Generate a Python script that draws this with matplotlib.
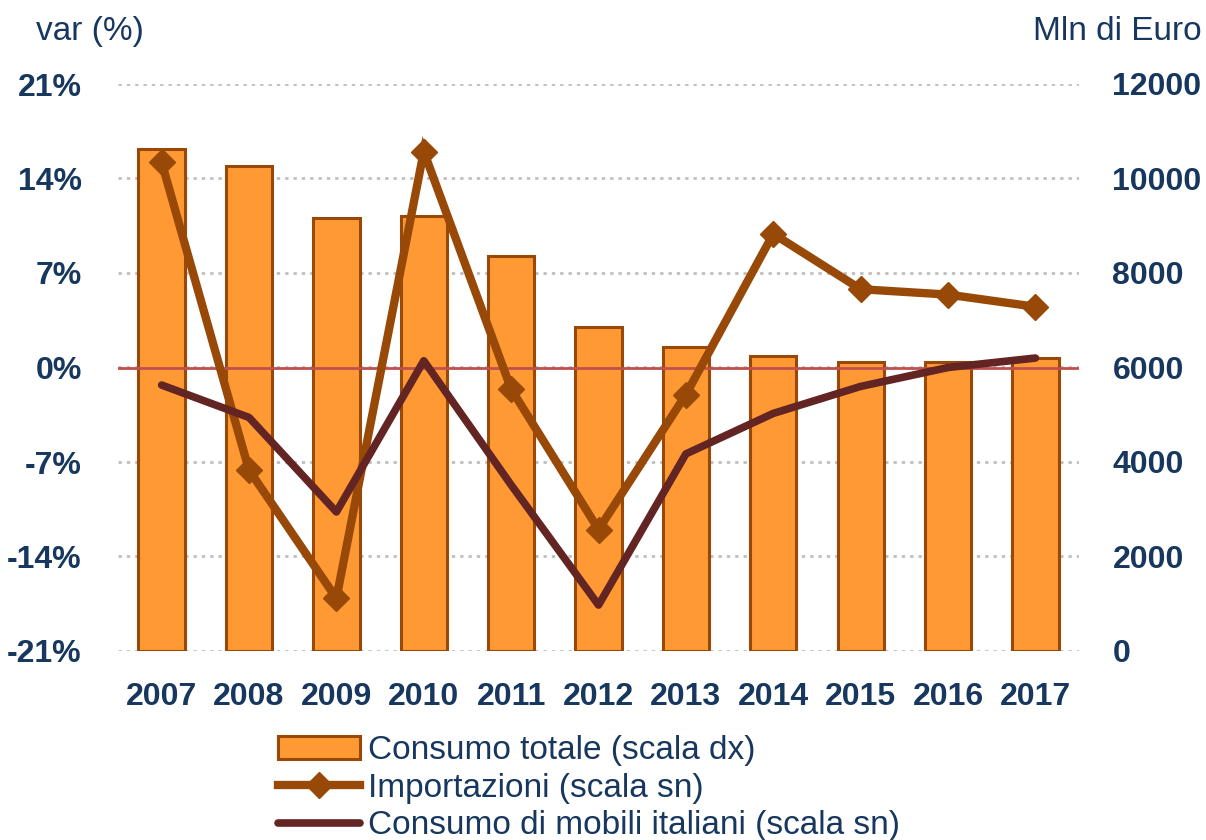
import matplotlib
matplotlib.use("Agg")
import matplotlib.pyplot as plt
from matplotlib.ticker import FuncFormatter

years = ["2007", "2008", "2009", "2010", "2011", "2012", "2013", "2014", "2015", "2016", "2017"]
consumo_totale = [10620, 10265, 9165, 9205, 8360, 6855, 6435, 6245, 6115, 6115, 6200]  # Mln di Euro (scala dx)
importazioni = [15.2, -7.6, -17.1, 16.0, -1.6, -12.0, -2.0, 9.9, 5.8, 5.4, 4.5]  # var % (scala sn)
consumo_mobili = [-1.3, -3.7, -10.7, 0.5, -8.7, -17.6, -6.4, -3.4, -1.4, 0.0, 0.7]  # var % (scala sn)

navy = "#17375E"
bar_fill = "#FF9933"
bar_edge = "#984807"
imp_col = "#984807"
mob_col = "#632523"

plt.rcParams["font.family"] = ["Liberation Sans", "DejaVu Sans"]

fig = plt.figure(figsize=(12.06, 8.4), dpi=100)
ax = fig.add_axes([0.0978, 0.225, 0.797, 0.675])
ax2 = ax.twinx()

x = list(range(len(years)))

# bars on right axis, behind
bars = ax2.bar(x, consumo_totale, width=0.53, color=bar_fill, edgecolor=bar_edge,
               linewidth=2.2, zorder=2, label="Consumo totale (scala dx)")
ax2.set_ylim(0, 12000)
ax2.set_yticks(range(0, 12001, 2000))
ax2.yaxis.grid(True, color="#BFBFBF", linestyle=(0, (1.2, 1.8)), linewidth=2, zorder=0)
ax2.set_axisbelow(True)

# lines on left axis, in front
ax.set_zorder(ax2.get_zorder() + 1)
ax.patch.set_visible(False)
ax.axhline(0, color="#C0504D", linewidth=2, zorder=1)
l1, = ax.plot(x, importazioni, color=imp_col, linewidth=6, marker="D", markersize=13,
              solid_joinstyle="miter", label="Importazioni (scala sn)", zorder=3)
l2, = ax.plot(x, consumo_mobili, color=mob_col, linewidth=5.5, solid_capstyle="round",
              solid_joinstyle="round", label="Consumo di mobili italiani (scala sn)", zorder=4)
ax.set_ylim(-21, 21)
ax.set_yticks(range(-21, 22, 7))
ax.yaxis.set_major_formatter(FuncFormatter(lambda v, p: f"{int(v)}%"))
ax.set_xlim(-0.5, len(years) - 0.5)
ax.set_xticks(x)
ax.set_xticklabels(years)

for a in (ax, ax2):
    for s in a.spines.values():
        s.set_visible(False)
    a.tick_params(length=0, colors=navy, labelsize=23)
    for lab in a.get_yticklabels() + a.get_xticklabels():
        lab.set_fontweight("bold")
ax.tick_params(axis="y", pad=26)
ax.tick_params(axis="x", pad=22)
ax2.tick_params(axis="y", pad=24)

fig.text(0.03, 0.963, "var (%)", color=navy, fontsize=24, ha="left", va="center")
fig.text(0.996, 0.963, "Mln di Euro", color=navy, fontsize=24, ha="right", va="center")

fig.legend(handles=[bars, l1, l2], loc="upper left", bbox_to_anchor=(0.217, 0.145),
           frameon=False, fontsize=24, labelcolor=navy, handlelength=2.45,
           handletextpad=0.25, labelspacing=0.2, borderpad=0)

fig.savefig("out.png", dpi=100)
